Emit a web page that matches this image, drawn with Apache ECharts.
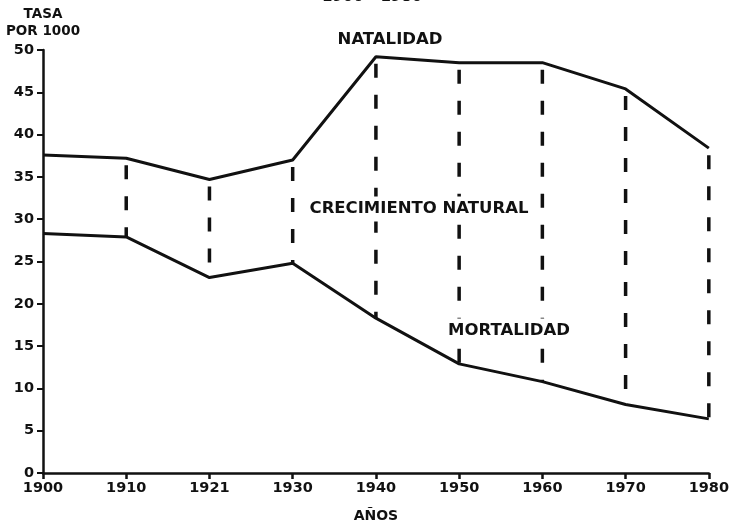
<!DOCTYPE html>
<html>
<head>
<meta charset="utf-8">
<script src="https://cdn.jsdelivr.net/npm/echarts@6/dist/echarts.min.js"></script>
<style>
  html, body { margin: 0; padding: 0; background: #fff; }
  #view { width: 732px; height: 528px; }
</style>
</head>
<body>
<div id="view"></div>
<script>
// años censales y tasas por 1000 habitantes
var years = ["1900", "1910", "1921", "1930", "1940", "1950", "1960", "1970", "1980"];
var natalidad = [37.6, 37.2, 34.7, 37.0, 49.2, 48.5, 48.5, 45.4, 38.4];
var mortalidad = [28.3, 27.9, 23.1, 24.8, 18.3, 12.9, 10.8, 8.1, 6.4];

var font = "DejaVu Sans";
var ink = "#111";

// tramos de crecimiento natural (sin 1900)
var gapData = [];
years.forEach(function (y, i) {
  if (i > 0) {
    gapData.push([i, natalidad[i], mortalidad[i]]);
  }
});

var myChart = echarts.init(document.getElementById("view"));

var option = {
  backgroundColor: "#fff",
  animation: false,
  textStyle: { fontFamily: font, fontWeight: "bold", color: ink },
  grid: { left: 43, right: 18, top: 50, bottom: 51 },
  xAxis: {
    type: "category",
    data: years,
    boundaryGap: false,
    name: "AÑOS",
    nameLocation: "middle",
    nameGap: 36,
    nameTextStyle: { fontFamily: font, fontWeight: "bold", fontSize: 14, color: ink },
    axisLine: { lineStyle: { color: ink, width: 2.5 } },
    axisTick: { show: true, length: 6, lineStyle: { color: ink, width: 2.5 } },
    axisLabel: { fontFamily: font, fontWeight: "bold", fontSize: 14.5, color: ink, margin: 8 },
    splitLine: { show: false },
  },
  yAxis: {
    type: "value",
    min: 0,
    max: 50,
    interval: 5,
    name: "TASA\nPOR 1000",
    nameLocation: "end",
    nameGap: 10,
    nameTextStyle: {
      fontFamily: font, fontWeight: "bold", fontSize: 13.5, color: ink,
      align: "center", lineHeight: 17,
    },
    axisLine: { show: true, lineStyle: { color: ink, width: 2.5 } },
    axisTick: { show: true, length: 6, lineStyle: { color: ink, width: 2 } },
    axisLabel: { fontFamily: font, fontWeight: "bold", fontSize: 14.5, color: ink, margin: 9 },
    splitLine: { show: false },
  },
  series: [
    {
      name: "NATALIDAD",
      type: "line",
      data: natalidad,
      symbol: "none",
      lineStyle: { color: ink, width: 3 },
    },
    {
      name: "MORTALIDAD",
      type: "line",
      data: mortalidad,
      symbol: "none",
      lineStyle: { color: ink, width: 3 },
    },
    {
      name: "CRECIMIENTO NATURAL",
      type: "custom",
      data: gapData,
      encode: { x: 0, y: [1, 2] },
      renderItem: function (params, api) {
        var top = api.coord([api.value(0), api.value(1)]);
        var bot = api.coord([api.value(0), api.value(2)]);
        return {
          type: "line",
          shape: { x1: top[0], y1: top[1] + 7, x2: bot[0], y2: bot[1] },
          style: { stroke: ink, lineWidth: 3.5, lineDash: [14, 17] },
        };
      },
    },
  ],
  graphic: [
    {
      type: "text", left: 322, top: -10,
      style: { text: "1900 - 1980", font: "bold 15px " + font, fill: ink },
    },
    {
      type: "text", x: 390, y: 40, z: 10,
      style: { text: "NATALIDAD", font: "bold 16.5px " + font, fill: ink, textAlign: "center", textVerticalAlign: "middle" },
    },
    {
      type: "text", x: 419, y: 209, z: 10,
      style: {
        text: "CRECIMIENTO NATURAL", font: "bold 16.5px " + font, fill: ink,
        textAlign: "center", textVerticalAlign: "middle",
        backgroundColor: "#fff", padding: [4, 2],
      },
    },
    {
      type: "text", x: 509, y: 331, z: 10,
      style: {
        text: "MORTALIDAD", font: "bold 16.5px " + font, fill: ink,
        textAlign: "center", textVerticalAlign: "middle",
        backgroundColor: "#fff", padding: [4, 2],
      },
    },
  ],
};
myChart.setOption(option);
</script>
</body>
</html>
